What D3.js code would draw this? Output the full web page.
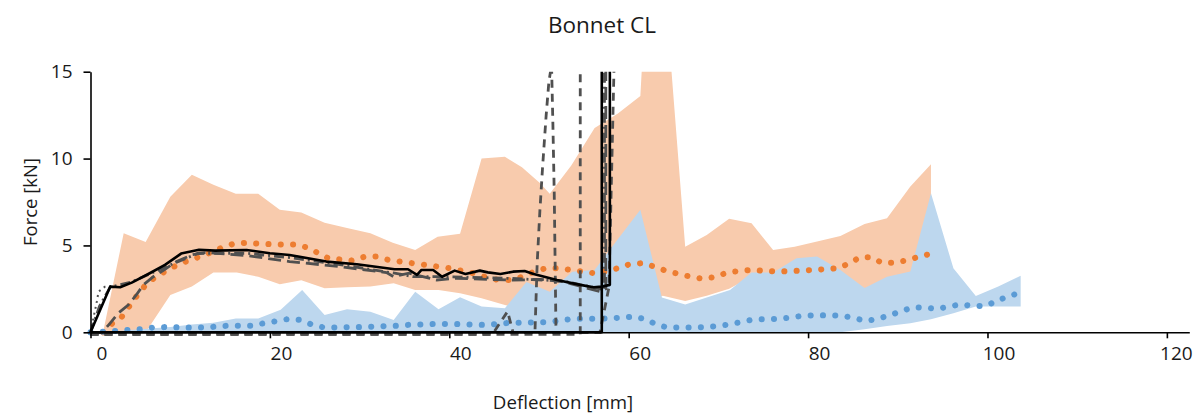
<!DOCTYPE html>
<html lang="en">
<head>
<meta charset="UTF-8">
<title>Bonnet CL</title>
<script src="https://d3js.org/d3.v7.min.js"></script>
<style>
  body { margin: 0; background: #fff; }
  text { font-family: "Open Sans", sans-serif; fill: #1a1a1a; }
</style>
</head>
<body>
<div id="chart"></div>
<script>
// corridor bands [deflection mm, force kN]
const orangeUpper = [[1.4,0],[3.7,5.7],[6.15,5.2],[8.9,7.8],[11.3,9.07],[13.7,8.5],[16.2,7.97],[18.7,7.97],[21.1,7.05],[23.5,6.9],[26.1,6.3],[28.6,6.0],[31.2,5.7],[33.7,5.15],[36.2,4.74],[38.7,5.5],[41.2,5.67],[43.6,10.0],[46.2,10.1],[48.1,9.5],[50.1,8.6],[51.2,7.97],[53.6,9.6],[56.2,11.76],[58.8,12.6],[61.3,13.6],[61.5,15.5],[64.7,15.5],[66.3,4.93],[68.7,5.6],[71.2,6.53],[73.7,6.28],[76.1,4.74],[78.5,4.93],[81,5.22],[83.6,5.55],[86.3,6.24],[88.8,6.57],[91.4,8.39],[93.7,9.68]];
const orangeLower = [[1.4,0],[3.7,0],[6.15,0],[8.9,2.15],[11.3,2.63],[13.7,3.44],[16.3,3.44],[18.7,3.2],[21.1,2.77],[23.5,3.0],[26.1,2.54],[28.6,2.6],[31.2,2.63],[33.8,2.82],[36.2,2.44],[38.8,2.44],[41.2,2.25],[43.6,1.96],[46.2,1.57],[48.6,1.3],[51.2,1.0],[53.6,1.0],[56.2,1.0],[58.8,1.2],[61.3,1.5],[63.8,2.1],[66.3,1.8],[68.7,2.1],[71.2,2.5],[73.7,3.2],[76.1,3.0],[78.5,2.9],[81,2.7],[83.6,2.5],[86.3,2.2],[88.8,2.5],[91.4,2.8],[93.7,3.0]];
const blueUpper = [[1.1,0],[3.7,0.1],[6.2,0.2],[8.9,0.3],[11.3,0.45],[13.7,0.55],[16.2,0.8],[18.7,0.8],[21.2,1.3],[23.6,2.44],[26.1,1.0],[28.6,1.33],[31.2,1.19],[33.8,0.71],[36.2,2.34],[38.8,1.33],[41.2,2.02],[43.6,1.48],[46.2,1.38],[48.6,2.9],[51.2,2.34],[53.7,3.49],[56.2,3.59],[58.7,5.3],[61.3,7.05],[63.7,2.0],[66.3,1.6],[68.7,2.0],[71.3,2.44],[73.7,3.44],[76.1,3.44],[78.7,4.26],[81,4.36],[83.6,3.59],[86.3,2.55],[88.8,3.2],[91.4,3.5],[93.7,8.0],[96.2,3.69],[98.7,2.09],[101.2,2.63],[103.7,3.26]];
const blueLower = [[1.1,0],[83.6,0],[86.3,0.17],[88.8,0.36],[91.4,0.52],[93.7,0.75],[96.2,1.1],[98.7,1.48],[101.2,1.48],[103.7,1.48]];

// corridor means
const orangeMean = [[1.4,0],[2.4,0.5],[3.5,0.9],[4.3,1.48],[5.1,2.05],[6.0,2.63],[6.9,3.05],[8.1,3.44],[9.3,3.78],[10.6,4.07],[12.0,4.32],[13.2,4.55],[14.5,4.84],[15.9,5.09],[17.3,5.15],[18.7,5.1],[21.5,5.05],[22.9,5.05],[24,4.9],[25.2,4.61],[26.5,4.26],[29.1,4.13],[30.6,4.36],[31.8,4.36],[33.2,4.17],[34.5,4.07],[37.3,3.88],[40,3.69],[42.7,3.4],[44.1,3.17],[45.5,3.01],[46.8,3.01],[48.2,3.2],[49.5,3.5],[50.8,3.69],[52.2,3.69],[53.5,3.59],[54.9,3.49],[56.2,3.4],[57.5,3.5],[58.8,3.69],[60.1,3.92],[61.6,3.98],[62.9,3.78],[64.2,3.53],[65.6,3.36],[66.9,3.2],[68.3,3.07],[69.7,3.2],[71,3.44],[72.3,3.53],[73.7,3.59],[76.5,3.49],[79.2,3.55],[80.6,3.59],[83.4,3.69],[84.6,3.98],[85.8,4.32],[87,4.32],[88.2,4.01],[89.5,4.01],[90.9,4.13],[92.2,4.32],[93.6,4.51]];
const blueMean = [[0,0],[2.7,0.07],[4.2,0.13],[5.5,0.17],[6.9,0.27],[8.3,0.3],[11.1,0.27],[12.5,0.27],[13.9,0.32],[15.3,0.38],[18,0.38],[19.3,0.52],[20.8,0.65],[22.1,0.77],[23.4,0.71],[24.8,0.42],[26.1,0.27],[30,0.3],[34.3,0.38],[35.7,0.44],[38.5,0.48],[41.3,0.47],[44.1,0.42],[46.8,0.55],[50.9,0.58],[52.3,0.67],[53.6,0.77],[57.9,0.8],[60.6,0.9],[61.9,0.75],[63.2,0.42],[64.4,0.27],[68.3,0.29],[69.9,0.36],[71.3,0.46],[72.7,0.61],[74,0.75],[76.8,0.77],[78.2,0.86],[79.5,0.96],[80.9,0.98],[83.7,0.96],[85,0.84],[86.4,0.65],[87.7,0.77],[89,0.96],[90.3,1.2],[91.7,1.44],[93.1,1.42],[94.3,1.34],[95.7,1.48],[97,1.61],[98.4,1.52],[99.8,1.52],[101.1,1.82],[102.4,2.09],[103.7,2.28]];

// test curves
const testSolid = [[0,0],[2.2,2.63],[3.3,2.59],[4.6,2.86],[6.6,3.4],[8.3,3.88],[10.1,4.53],[12.1,4.75],[13.9,4.7],[17.4,4.74],[20,4.55],[22.2,4.45],[26.3,4.07],[29.7,3.92],[33.9,3.63],[35.4,3.63],[36.4,3.3],[36.9,3.59],[38.2,3.59],[39.2,3.2],[40.6,3.55],[41.8,3.36],[43.4,3.55],[44.3,3.45],[45.7,3.36],[47.1,3.49],[48.4,3.53],[49.4,3.36],[52,3.01],[54.6,2.73],[56.1,2.59],[57,2.63],[57.9,2.73],[57.9,16]];
const testSolidReturn = [[57,16],[57,0],[0,0]];
const testLongDash = [[0,-0.1],[1.3,0],[2.2,0.53],[3.1,1.1],[4.2,1.57],[5.1,2.15],[5.9,2.73],[7,3.2],[8.3,3.63],[9.6,4.07],[11.3,4.46],[12.8,4.59],[14.1,4.55],[17.4,4.42],[19.6,4.26],[22.2,4.07],[27.8,3.78],[33,3.44],[33.8,3.2],[35.5,3.4],[38.6,3.01],[40.8,3.11],[47,3.0],[50.1,3.05],[52.7,2.92],[56.8,2.34],[57.45,2.5],[57.45,16]];
const testDashDot = [[0,0],[1,1.5],[2.2,2.6],[4.6,2.9],[8.3,3.75],[12,4.55],[17.4,4.55],[22.2,4.3],[27.8,3.9],[33.9,3.4],[36,3.2],[40,3.2],[47,3.1],[52.7,2.95],[57.3,2.45],[57.3,16]];
const testRoundDot = [[0,0],[0.7,1.76],[0.9,2.34],[1.6,2.62],[2.3,2.66]];
const testDashB = [[0,-0.12],[44.8,-0.12],[46.5,1.2],[47.1,0],[49.55,0],[49.8,4],[50.1,7],[50.4,9.5],[50.8,12.5],[51.1,14.4],[51.4,15.4],[51.55,12],[51.7,8],[51.9,-0.12]];
const testDashC = [[0,-0.12],[54.6,-0.12],[54.6,16]];
const testDashD = [[0,-0.12],[56.8,0],[57.8,2.6],[58.4,16]];

const xTicks = [0, 20, 40, 60, 80, 100, 120];
const yTicks = [0, 5, 10, 15];

const W = 1193, H = 413;
const svg = d3.select("#chart").append("svg")
    .attr("width", W)
    .attr("height", H);

const x = d3.scaleLinear().domain([0, 122.5]).range([90.5, 1189.3]);
const y = d3.scaleLinear().domain([0, 15]).range([332.3, 71.7]);

svg.append("clipPath").attr("id", "plotclip")
    .append("rect")
    .attr("x", 80).attr("y", y(15))
    .attr("width", W).attr("height", H);

const plot = svg.append("g").attr("clip-path", "url(#plotclip)");
const line = d3.line().x(d => x(d[0])).y(d => y(d[1]));

function band(upper, lower, color) {
    plot.append("path")
        .attr("d", line(upper.concat(lower.slice().reverse())) + "Z")
        .attr("fill", color)
        .attr("stroke", "none");
}
band(orangeUpper, orangeLower, "#F8CBAD");
band(blueUpper, blueLower, "#BDD7EE");

// dotted means
function dotted(data, color) {
    plot.append("path")
        .attr("d", line(data))
        .attr("fill", "none")
        .attr("stroke", color)
        .attr("stroke-width", 6)
        .attr("stroke-linecap", "round")
        .attr("stroke-dasharray", "0.1 12.2");
}
dotted(orangeMean, "#ED7D31");
dotted(blueMean, "#5B9BD5");

// gray test curves
function grayLine(data, dash, width) {
    plot.append("path")
        .attr("d", line(data))
        .attr("fill", "none")
        .attr("stroke", "#505050")
        .attr("stroke-width", width)
        .attr("stroke-dasharray", dash);
}
grayLine(testDashB, "8 6", 2.8);
grayLine(testDashC, "8 6", 2.8);
grayLine(testDashD, "8 6", 2.8);
grayLine(testDashDot, "10 4 2 4", 2.8);
grayLine(testLongDash, "13 6", 2.8);
grayLine(testRoundDot, "2 4", 2);

// black test curve
[testSolid, testSolidReturn].forEach(d => {
    plot.append("path")
        .attr("d", line(d))
        .attr("fill", "none")
        .attr("stroke", "#000")
        .attr("stroke-width", 2.6)
        .attr("stroke-linejoin", "round");
});

// axes
const xAxis = svg.append("g")
    .attr("transform", "translate(0," + y(0) + ")")
    .call(d3.axisBottom(x).tickValues(xTicks).tickSize(6).tickSizeOuter(0).tickPadding(8));
const yAxis = svg.append("g")
    .attr("transform", "translate(" + x(0) + ",0)")
    .call(d3.axisLeft(y).tickValues(yTicks).tickSize(7).tickSizeOuter(0).tickPadding(11));

[xAxis, yAxis].forEach(g => {
    g.select(".domain").attr("stroke", "#000").attr("stroke-width", 1.6);
    g.selectAll(".tick line").attr("stroke", "#000").attr("stroke-width", 1.6);
    g.selectAll(".tick text")
        .style("font-family", "'Open Sans', sans-serif")
        .style("font-size", "19px")
        .attr("fill", "#1a1a1a");
});
xAxis.selectAll(".tick text").attr("dx", d => d === 120 ? 9 : 11);

// titles
svg.append("text")
    .attr("x", 602).attr("y", 33)
    .attr("text-anchor", "middle")
    .style("font-size", "22.5px")
    .text("Bonnet CL");

svg.append("text")
    .attr("x", 563).attr("y", 409)
    .attr("text-anchor", "middle")
    .style("font-size", "18.7px")
    .text("Deflection [mm]");

svg.append("text")
    .attr("transform", "translate(37," + (y(7.5)) + ") rotate(-90)")
    .attr("text-anchor", "middle")
    .style("font-size", "18.5px")
    .text("Force [kN]");
</script>
</body>
</html>
